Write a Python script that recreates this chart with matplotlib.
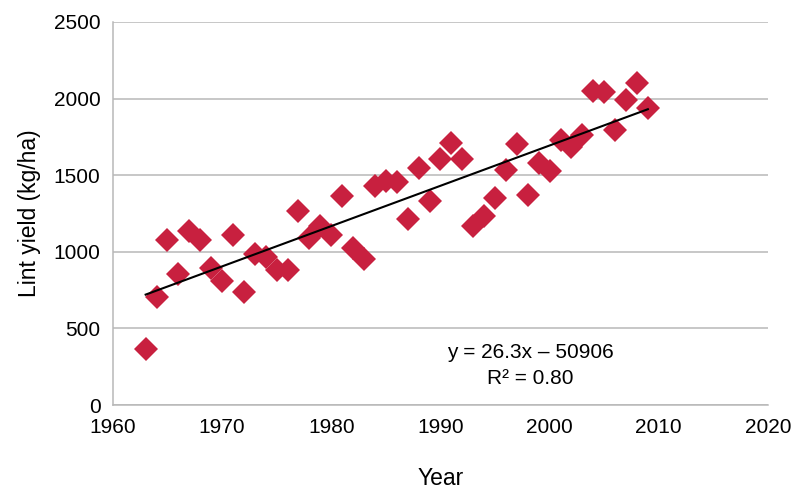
import matplotlib.pyplot as plt
import numpy as np

plt.rcParams['font.family'] = ['Liberation Sans', 'DejaVu Sans']

years = np.arange(1963, 2010)
lint_yield = [365, 705, 1077, 855, 1136, 1077, 894, 810, 1110, 738,
              986, 966, 881, 881, 1266, 1090, 1168, 1110, 1364, 1025,
              953, 1430, 1462, 1456, 1214, 1547, 1332, 1606, 1710, 1606,
              1168, 1234, 1351, 1534, 1704, 1371, 1580, 1527, 1730, 1684,
              1762, 2050, 2043, 1795, 1991, 2102, 1938]

# trend line as printed on the chart
slope = 26.3
intercept = -50906

fig = plt.figure(figsize=(7.95, 4.94), dpi=100)
ax = fig.add_axes([0.142, 0.180, 0.824, 0.7755])

ax.grid(axis='y', color='#b8b8b8', linewidth=1.1, zorder=0)
ax.plot(years, lint_yield, linestyle='none', marker='D', markersize=12.5,
        color='#c8203f', markeredgewidth=0, zorder=3)

trend_x = np.array([years[0], years[-1]])
ax.plot(trend_x, slope * trend_x + intercept, color='black', linewidth=1.5, zorder=4)

ax.set_xlim(1960, 2020)
ax.set_ylim(0, 2500)
ax.set_xticks(np.arange(1960, 2021, 10))
ax.set_yticks(np.arange(0, 2501, 500))
ax.tick_params(length=0, labelsize=15, pad=9)

for side in ['top', 'right']:
    ax.spines[side].set_visible(False)
for side in ['left', 'bottom']:
    ax.spines[side].set_color('#b8b8b8')
    ax.spines[side].set_linewidth(1.1)

ax.set_xlabel('Year', fontsize=16.5, labelpad=22)
ax.set_ylabel('Lint yield (kg/ha)', fontsize=16.5, labelpad=9)

ax.text(1998.2, 346, 'y = 26.3x \u2013 50906', ha='center', va='center', fontsize=15)
ax.text(1998.2, 176, 'R\u00b2 = 0.80', ha='center', va='center', fontsize=15)

fig.savefig('out.png', dpi=100)
